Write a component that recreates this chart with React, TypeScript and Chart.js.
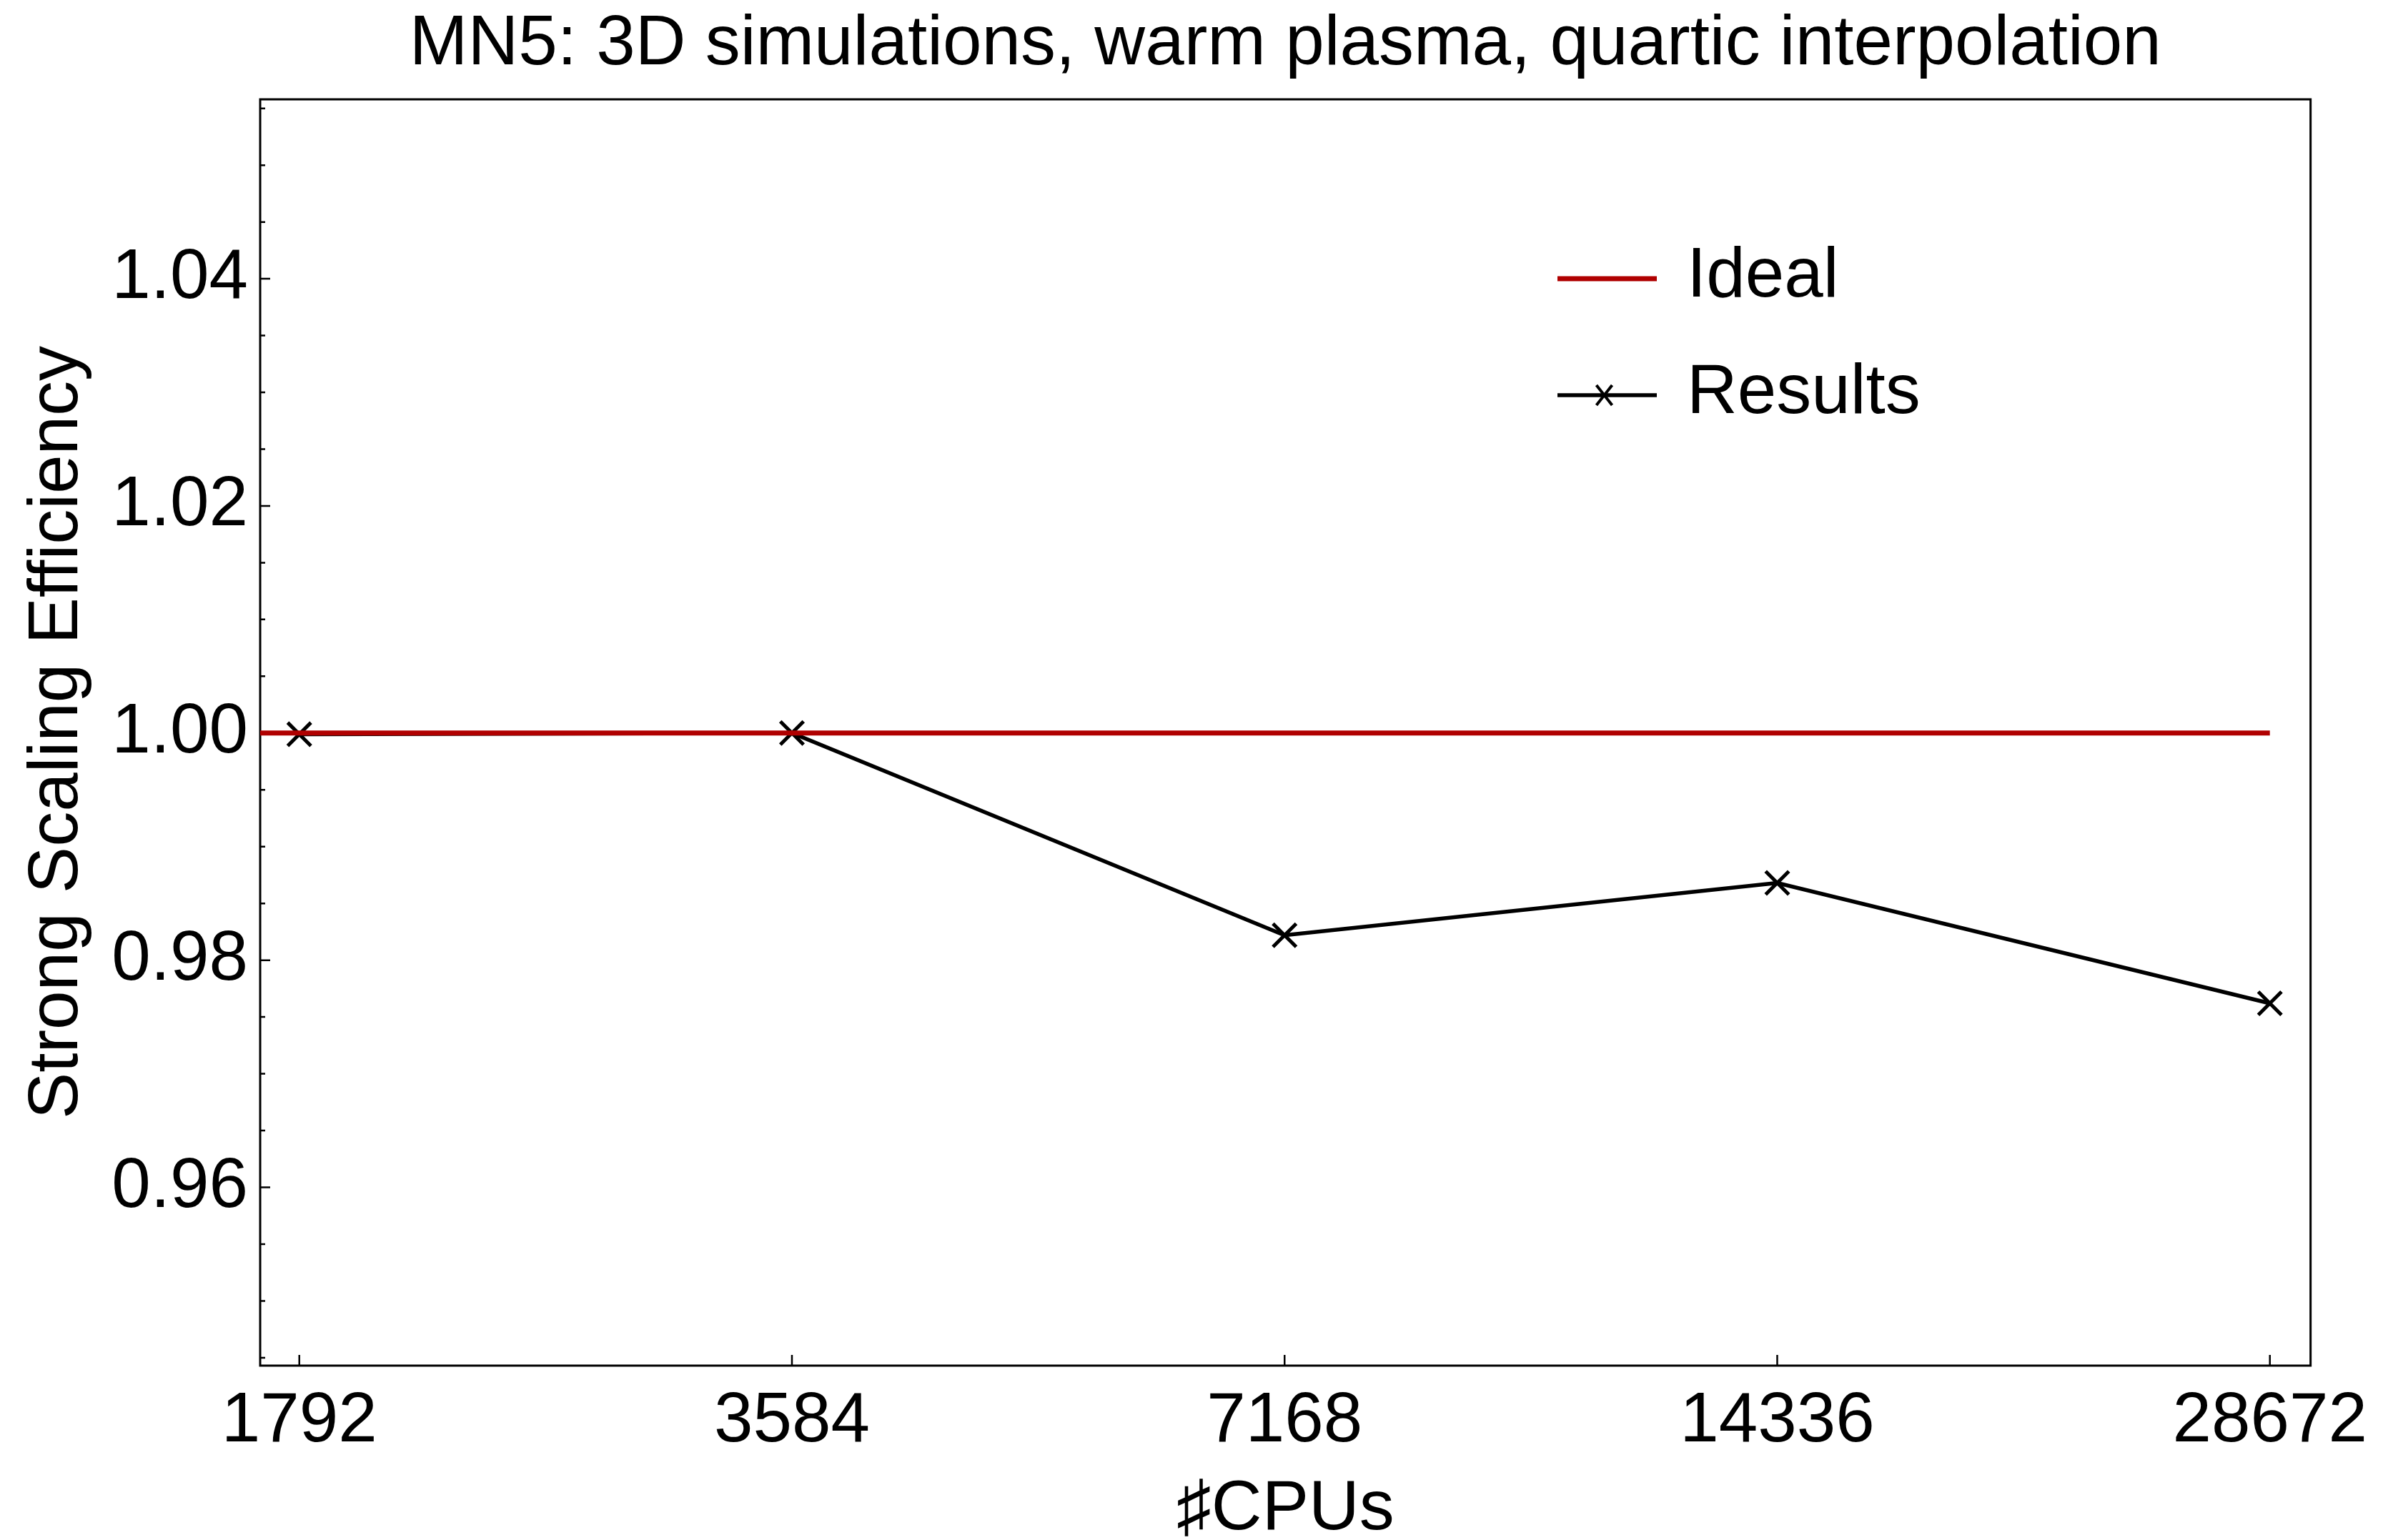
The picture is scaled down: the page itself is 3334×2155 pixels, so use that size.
import React, { useEffect, useRef } from "react";
import { Chart, registerables } from "chart.js";

Chart.register(...registerables);

// ---- data ----
const cpus = [1792, 3584, 7168, 14336, 28672];
const efficiency = [0.9999, 1.0, 0.9822, 0.9868, 0.9762];
const idealX = [1696, 28672];
const idealY = [1.0, 1.0];
const xTickValues = [1792, 3584, 7168, 14336, 28672];
const yMajorTicks = [0.96, 0.98, 1.0, 1.02, 1.04];
const yMinorTicks = [
  0.945, 0.95, 0.955, 0.965, 0.97, 0.975, 0.985, 0.99, 0.995, 1.005, 1.01,
  1.015, 1.025, 1.03, 1.035, 1.045, 1.05, 1.055,
];
const seriesLabels = ["Ideal", "Results"];
const titleText = "MN5: 3D simulations, warm plasma, quartic interpolation";
const xTitle = "\u266FCPUs";
const yTitle = "Strong Scaling Efficiency";

const FONT = "'Liberation Sans', Arial, Helvetica, sans-serif";
const FS = 98;
const RED = "#b00000";

const framePlugin = {
  id: "frameTicks",
  beforeDatasetsDraw(chart: any) {
    const { ctx, chartArea, scales } = chart;
    const { left, right, top, bottom } = chartArea;
    const x = scales.x;
    const y = scales.y;
    ctx.save();
    ctx.strokeStyle = "#000";
    ctx.lineWidth = 3;
    ctx.strokeRect(left, top, right - left, bottom - top);
    ctx.lineWidth = 2.5;
    ctx.beginPath();
    yMajorTicks.forEach((v) => {
      const p = y.getPixelForValue(v);
      ctx.moveTo(left, p);
      ctx.lineTo(left + 14, p);
    });
    yMinorTicks.forEach((v) => {
      const p = y.getPixelForValue(v);
      ctx.moveTo(left, p);
      ctx.lineTo(left + 7, p);
    });
    xTickValues.forEach((v) => {
      const p = x.getPixelForValue(v);
      ctx.moveTo(p, bottom);
      ctx.lineTo(p, bottom - 15);
    });
    ctx.stroke();
    ctx.restore();
  },
};

const legendPlugin = {
  id: "customLegend",
  afterDraw(chart: any) {
    const { ctx } = chart;
    const x0 = 2179;
    const x1 = 2318;
    const tx = 2360;
    const rows = [390, 553];
    ctx.save();
    chart.data.datasets.forEach((ds: any, i: number) => {
      const yy = rows[i];
      ctx.strokeStyle = ds.borderColor;
      ctx.lineWidth = ds.borderWidth;
      ctx.beginPath();
      ctx.moveTo(x0, yy);
      ctx.lineTo(x1, yy);
      ctx.stroke();
      if (ds.pointRadius > 0) {
        const cx = (x0 + x1) / 2 - 4;
        const rx = 11;
        const ry = 14;
        ctx.lineWidth = 4;
        ctx.beginPath();
        ctx.moveTo(cx - rx, yy - ry);
        ctx.lineTo(cx + rx, yy + ry);
        ctx.moveTo(cx + rx, yy - ry);
        ctx.lineTo(cx - rx, yy + ry);
        ctx.stroke();
      }
      ctx.fillStyle = "#000";
      ctx.font = `${FS}px ${FONT}`;
      ctx.textBaseline = "middle";
      ctx.textAlign = "left";
      ctx.fillText(ds.label, tx, yy - 2);
    });
    ctx.restore();
  },
};

export default function App() {
  const ref = useRef<HTMLCanvasElement | null>(null);

  useEffect(() => {
    document.body.style.margin = "0";
    document.body.style.overflow = "hidden";
    const canvas = ref.current;
    if (!canvas) return;
    const chart = new Chart(canvas, {
      type: "line",
      data: {
        datasets: [
          {
            label: seriesLabels[0],
            data: idealX.map((x, i) => ({ x, y: idealY[i] })),
            borderColor: RED,
            backgroundColor: RED,
            borderWidth: 7,
            pointRadius: 0,
            fill: false,
          },
          {
            label: seriesLabels[1],
            data: cpus.map((x, i) => ({ x, y: efficiency[i] })),
            borderColor: "#000",
            backgroundColor: "#000",
            borderWidth: 5.5,
            pointStyle: "crossRot",
            pointRadius: 23,
            pointBorderWidth: 5,
            pointBorderColor: "#000",
            pointBackgroundColor: "#000",
            fill: false,
          },
        ],
      },
      options: {
        responsive: false,
        animation: false,
        devicePixelRatio: 1,
        layout: { padding: { left: 0, right: 97, top: 0, bottom: 0 } },
        plugins: {
          legend: { display: false },
          tooltip: { enabled: false },
          title: {
            display: true,
            text: titleText,
            fullSize: false,
            color: "#000",
            font: { family: FONT, size: FS, weight: "normal" },
            padding: { top: 4, bottom: 17.4 },
          },
        },
        scales: {
          x: {
            type: "logarithmic",
            min: 1696,
            max: 30361,
            afterBuildTicks: (s: any) => {
              s.ticks = xTickValues.map((v) => ({ value: v }));
            },
            afterFit: (s: any) => {
              s.height = 244;
            },
            ticks: {
              callback: (v: any) => String(v),
              color: "#000",
              font: { family: FONT, size: FS },
              padding: 20,
              maxRotation: 0,
              autoSkip: false,
            },
            grid: { display: false, drawTicks: false },
            border: { display: false },
            title: {
              display: true,
              text: xTitle,
              color: "#000",
              font: { family: FONT, size: FS, weight: "normal" },
              padding: { top: 0, bottom: -17 },
            },
          },
          y: {
            type: "linear",
            min: 0.9443,
            max: 1.0558,
            afterBuildTicks: (s: any) => {
              s.ticks = yMajorTicks.map((v) => ({ value: v }));
            },
            afterFit: (s: any) => {
              s.width = 364;
            },
            ticks: {
              callback: (v: any) => Number(v).toFixed(2),
              color: "#000",
              font: { family: FONT, size: FS },
              padding: 17,
              autoSkip: false,
            },
            grid: { display: false, drawTicks: false },
            border: { display: false },
            title: {
              display: true,
              text: yTitle,
              color: "#000",
              font: { family: FONT, size: FS, weight: "normal" },
              padding: { top: 22, bottom: 0 },
            },
          },
        },
      },
      plugins: [framePlugin, legendPlugin],
    } as any);
    return () => chart.destroy();
  }, []);

  return (
    <div style={{ width: 3334, height: 2155, background: "#fff" }}>
      <canvas ref={ref} width={3334} height={2155} style={{ display: "block" }} />
    </div>
  );
}
